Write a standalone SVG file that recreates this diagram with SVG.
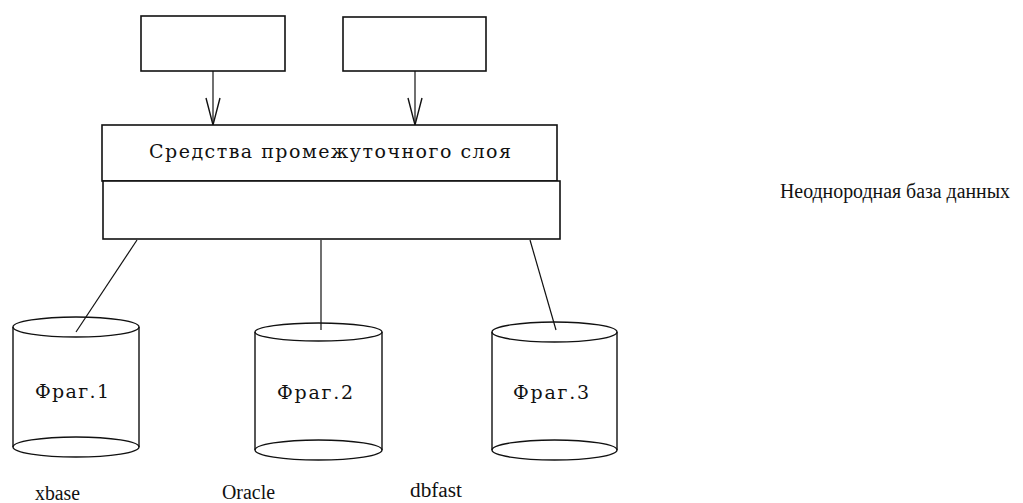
<svg xmlns="http://www.w3.org/2000/svg" width="1023" height="503" viewBox="0 0 1023 503">
  <style>
    .box { fill: #ffffff; stroke: #111111; stroke-width: 1.6; }
    .link { fill: none; stroke: #111111; stroke-width: 1.2; }
    .cyl { fill: none; stroke: #111111; stroke-width: 1.4; }
    .inner { font-family: "DejaVu Serif", "Liberation Serif", serif; font-size: 19px; fill: #111111; }
    .label { font-family: "Liberation Serif", "DejaVu Serif", serif; font-size: 20px; fill: #111111; }
  </style>
  <defs>
    <!-- narrow open V arrowhead -->
    <marker id="vhead" markerUnits="userSpaceOnUse" markerWidth="20" markerHeight="32" viewBox="-10 -30 20 32" refX="0" refY="0" orient="auto-start-reverse" overflow="visible">
      <path d="M-27,-7 L0,0 L-27,7" fill="none" stroke="#111111" stroke-width="1.4"/>
    </marker>
  </defs>

  <rect width="1023" height="503" fill="#ffffff"/>

  <!-- connectors -->
  <g id="connectors">
    <line class="link" x1="213" y1="71" x2="213" y2="125" marker-end="url(#vhead)"/>
    <line class="link" x1="415" y1="71" x2="415" y2="125" marker-end="url(#vhead)"/>
    <line class="link" x1="137" y1="240" x2="76" y2="332"/>
    <line class="link" x1="321" y1="240" x2="321" y2="330"/>
    <line class="link" x1="530" y1="240" x2="556" y2="330"/>
  </g>

  <!-- client boxes -->
  <g id="client1">
    <rect class="box" x="141" y="16" width="144" height="55"/>
  </g>
  <g id="client2">
    <rect class="box" x="343" y="17" width="143" height="54"/>
  </g>

  <!-- middleware layer -->
  <g id="middleware">
    <rect class="box" x="102" y="125" width="455" height="56"/>
    <rect class="box" x="103" y="181" width="457" height="58"/>
    <text class="inner" x="149" y="158" textLength="362" lengthAdjust="spacing">Средства промежуточного слоя</text>
  </g>

  <!-- fragment 1 -->
  <g id="frag1">
    <path class="cyl" d="M13,327 L13,447 M139,327 L139,447"/>
    <ellipse class="cyl" cx="76" cy="327" rx="63" ry="10"/>
    <ellipse class="cyl" cx="76" cy="447" rx="63" ry="10"/>
    <text class="inner" x="35" y="398" textLength="74" lengthAdjust="spacing">Фраг.1</text>
    <text class="label" x="35" y="500" textLength="45" lengthAdjust="spacingAndGlyphs">xbase</text>
  </g>

  <!-- fragment 2 -->
  <g id="frag2">
    <path class="cyl" d="M255,332 L255,450 M382,332 L382,450"/>
    <ellipse class="cyl" cx="318.5" cy="332" rx="63.5" ry="9"/>
    <ellipse class="cyl" cx="318.5" cy="450" rx="63.5" ry="10"/>
    <text class="inner" x="277" y="399" textLength="76" lengthAdjust="spacing">Фраг.2</text>
    <text class="label" x="222" y="499" textLength="53" lengthAdjust="spacingAndGlyphs">Oracle</text>
  </g>

  <!-- fragment 3 -->
  <g id="frag3">
    <path class="cyl" d="M492,332 L492,450 M617,332 L617,450"/>
    <ellipse class="cyl" cx="554.5" cy="332" rx="62.5" ry="10"/>
    <ellipse class="cyl" cx="554.5" cy="450" rx="62.5" ry="10"/>
    <text class="inner" x="513" y="399" textLength="76" lengthAdjust="spacing">Фраг.3</text>
    <text class="label" x="410" y="497" textLength="52" lengthAdjust="spacingAndGlyphs">dbfast</text>
  </g>

  <!-- caption -->
  <g id="caption">
    <text class="label" x="780" y="198" textLength="230" lengthAdjust="spacingAndGlyphs">Неоднородная база данных</text>
  </g>
</svg>
